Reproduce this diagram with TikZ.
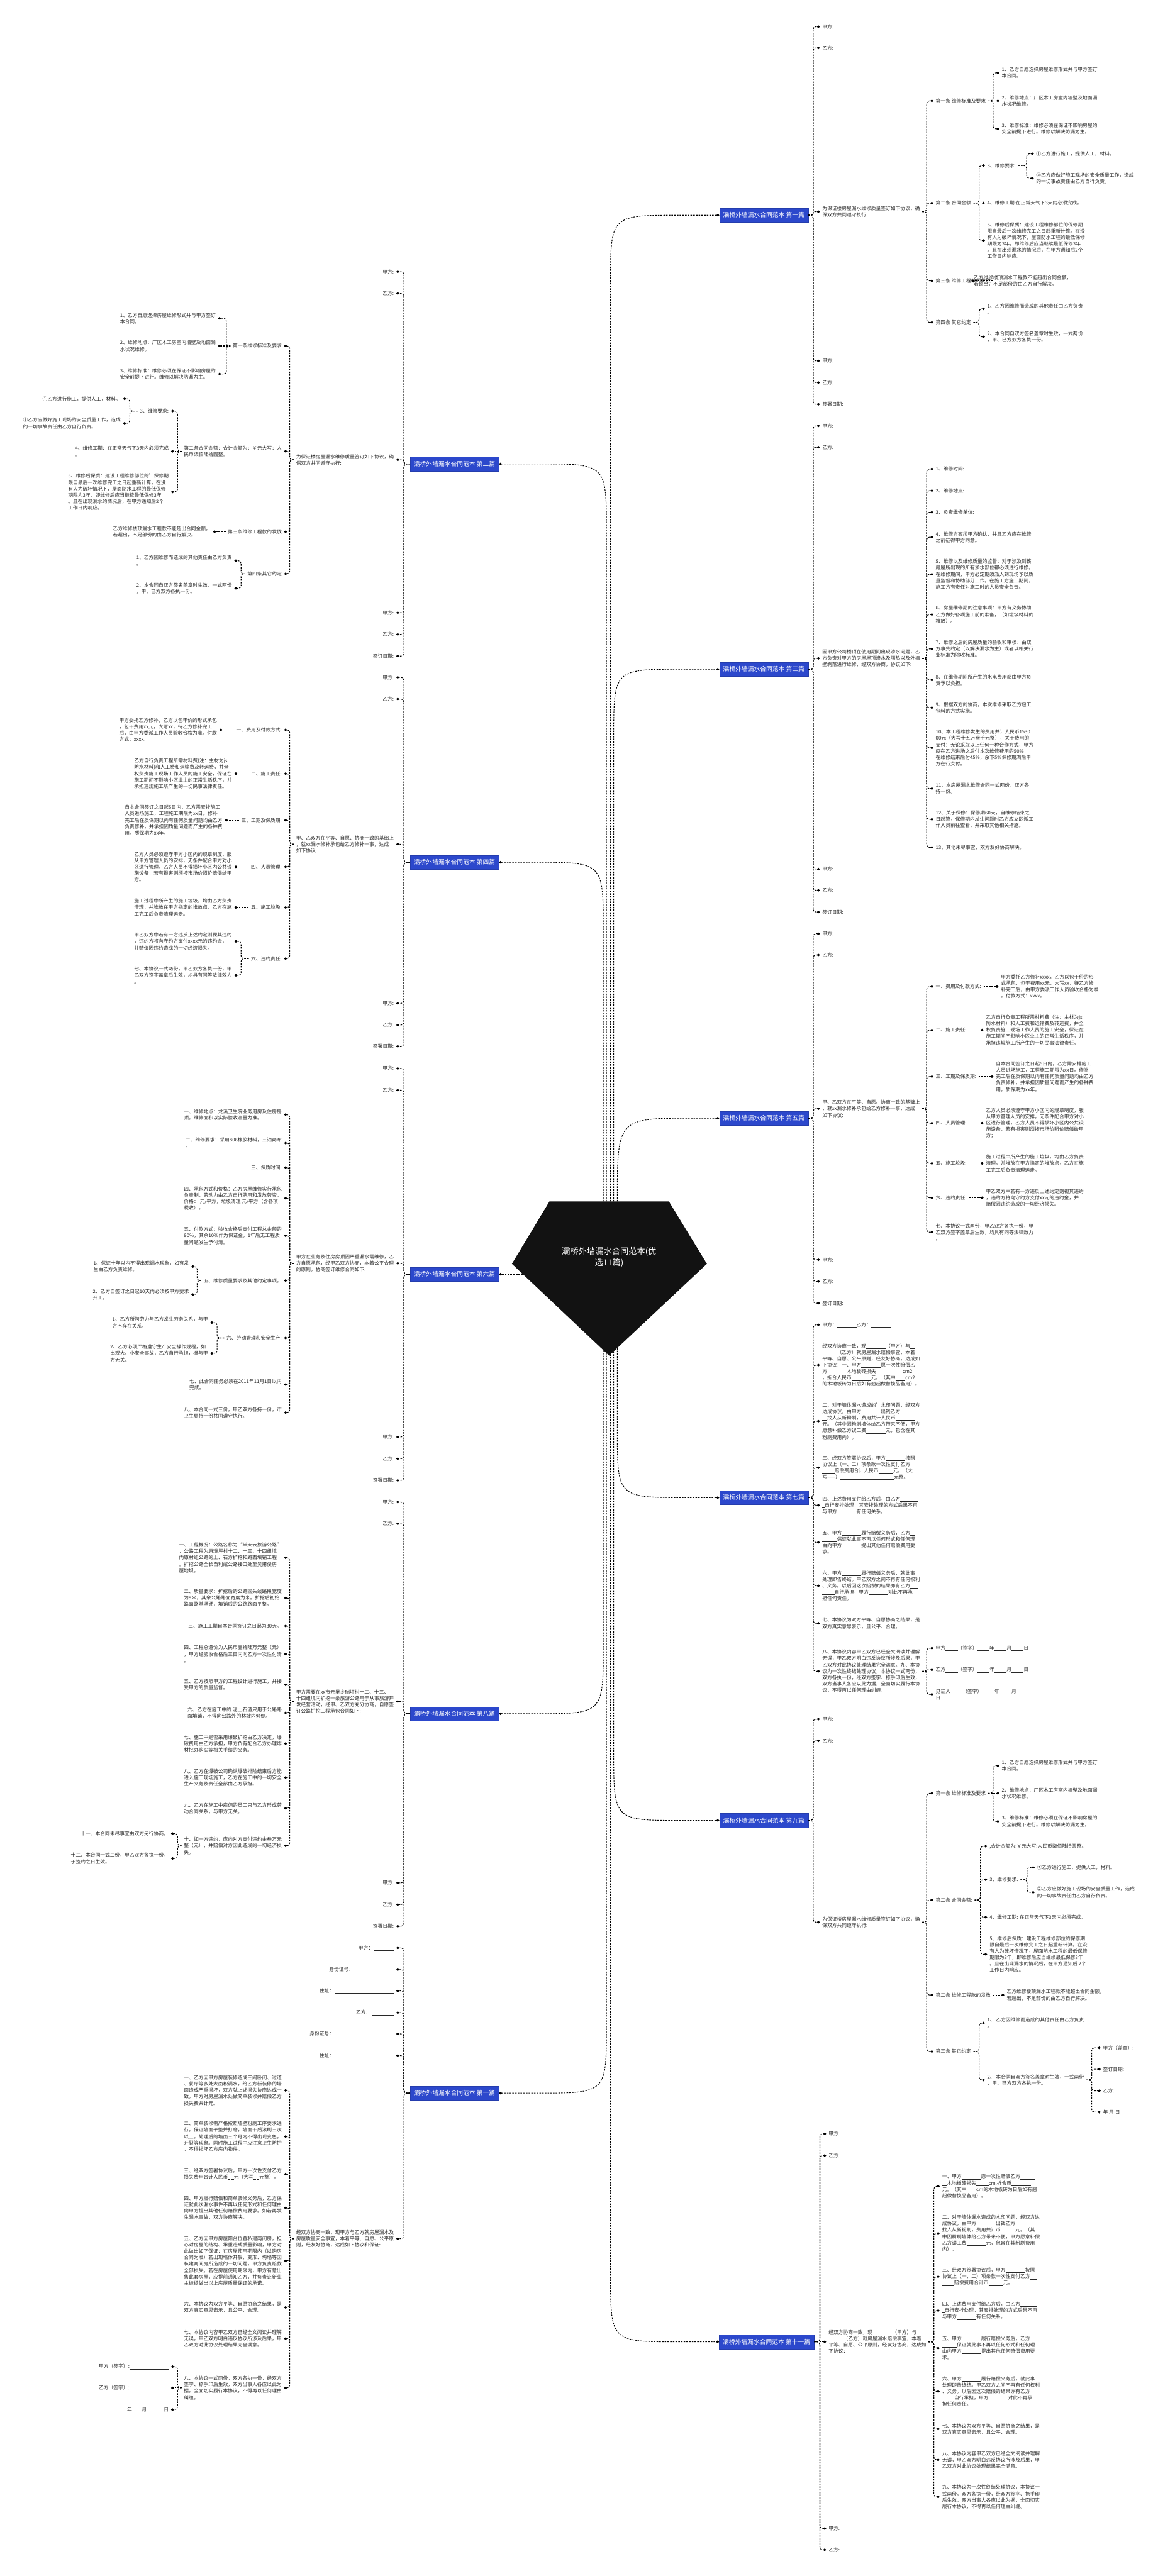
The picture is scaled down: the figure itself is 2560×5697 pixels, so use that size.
\documentclass[tikz,border=0pt]{standalone}
\usepackage{fontspec}
\setmainfont{Noto Sans CJK SC}
\usetikzlibrary{arrows.meta,calc}
\definecolor{bluebox}{RGB}{44,72,204}
\definecolor{txtc}{RGB}{40,40,40}
\newdimen\ulw \ulw=5.4pt
\newcommand\bl[1]{\rule[-1.6pt]{#1\ulw}{0.6pt}}
\newcommand\fsz{\fontsize{10.8pt}{14.1pt}\selectfont}
\newcommand\fbr{\fontsize{13.6pt}{16pt}\selectfont}
\newcommand\fcen{\fontsize{18.4pt}{25pt}\selectfont}
\tikzset{
 txt/.style={font=\fsz, text=txtc, align=left, inner xsep=5pt, inner ysep=1pt},
 rn/.style={txt, anchor=west},
 ln/.style={txt, anchor=east},
 br/.style={fill=bluebox, draw=bluebox!85!black, line width=0.6pt, text=white, font=\fbr, minimum width=196pt, minimum height=31pt, inner sep=2pt},
 conn/.style={draw=black, line width=1.5pt, dash pattern=on 3.5pt off 2.5pt, -{Diamond[length=7pt,width=6pt]}},
}
\newcommand\conR[3]{\draw[conn] let \p1=(#1.east), \p2=(#3.west), \n1={max(0.5pt,min(6pt,abs(\y2-(\y1))/2.2))}, \n2={max(#2pt,\x1+9pt)} in [rounded corners=\n1] (\p1) -- (\n2,\y1) -- (\n2,\y2) -- (\p2);}
\newcommand\conL[3]{\draw[conn] let \p1=(#1.west), \p2=(#3.east), \n1={max(0.5pt,min(6pt,abs(\y2-(\y1))/2.2))}, \n2={min(#2pt,\x1-9pt)} in [rounded corners=\n1] (\p1) -- (\n2,\y1) -- (\n2,\y2) -- (\p2);}
\newcommand\conRs[2]{\draw[conn] (#1.east) -- (#2.west);}
\newcommand\conLs[2]{\draw[conn] (#1.west) -- (#2.east);}
\begin{document}
\begin{tikzpicture}[x=1pt,y=-1pt]
\fill[white] (0,0) rectangle (2560,5697);
\useasboundingbox (0,0) rectangle (2560,5697);
% ===== center
\fill[black!93] (1215,2657) -- (1479,2657) -- (1563,2795) -- (1347,2998) -- (1132,2795) -- cycle;
\node[text=white, font=\fcen, align=center] (C) at (1347,2780) {灞桥外墙漏水合同范本(优\\选11篇)};
\coordinate (tB1) at (1350,2657);
\coordinate (tB3) at (1357,2657);
\coordinate (tB5) at (1365,2657);
\coordinate (tB2) at (1341,2657);
\coordinate (tB4) at (1334,2657);
\coordinate (tB6) at (1156,2818);
\coordinate (tB7) at (1365,2981);
\coordinate (tB9) at (1357,2989);
\coordinate (tB11) at (1350,2995);
\coordinate (tB10) at (1341,2992);
\coordinate (tB8) at (1334,2986);
% ===== branch boxes
\node[br] (B1) at (1689,476) {灞桥外墙漏水合同范本 第一篇};
\node[br] (B3) at (1689,1480) {灞桥外墙漏水合同范本 第三篇};
\node[br] (B5) at (1689,2473) {灞桥外墙漏水合同范本 第五篇};
\node[br] (B7) at (1689,3312) {灞桥外墙漏水合同范本 第七篇};
\node[br] (B9) at (1689,4026) {灞桥外墙漏水合同范本 第九篇};
\node[br, minimum width=209pt] (B11) at (1695,5179) {灞桥外墙漏水合同范本 第十一篇};
\node[br] (B2) at (1005,1026) {灞桥外墙漏水合同范本 第二篇};
\node[br] (B4) at (1005,1907) {灞桥外墙漏水合同范本 第四篇};
\node[br] (B6) at (1005,2818) {灞桥外墙漏水合同范本 第六篇};
\node[br] (B8) at (1005,3790) {灞桥外墙漏水合同范本 第八篇};
\node[br] (B10) at (1005,4629) {灞桥外墙漏水合同范本 第十篇};
% center connectors
\draw[conn] (tB1) -- (1350,626) .. controls (1350,476) .. (1500,476) -- (B1.west);
\draw[conn] (tB3) -- (1357,1630) .. controls (1357,1480) .. (1507,1480) -- (B3.west);
\draw[conn] (tB5) .. controls (1365,2473) .. (1530,2473) -- (B5.west);
\draw[conn] (tB2) -- (1341,1176) .. controls (1341,1026) .. (1191,1026) -- (B2.east);
\draw[conn] (tB4) -- (1334,2057) .. controls (1334,1907) .. (1184,1907) -- (B4.east);
\draw[conn] (tB6) -- (B6.east);
\draw[conn] (tB7) -- (1365,3162) .. controls (1365,3312) .. (1515,3312) -- (B7.west);
\draw[conn] (tB9) -- (1357,3876) .. controls (1357,4026) .. (1507,4026) -- (B9.west);
\draw[conn] (tB11) -- (1350,5029) .. controls (1350,5179) .. (1500,5179) -- (B11.west);
\draw[conn] (tB8) -- (1334,3640) .. controls (1334,3790) .. (1184,3790) -- (B8.east);
\draw[conn] (tB10) -- (1341,4479) .. controls (1341,4629) .. (1191,4629) -- (B10.east);
% ================= 第一篇
\node[rn] (p1a) at (1813,59) {甲方:};
\node[rn] (p1b) at (1813,106) {乙方:};
\node[rn] (p1c) at (1813,468) {为保证楼房屋漏水维修质量签订如下协议，确\\保双方共同遵守执行:};
\node[rn] (p1d) at (1813,798) {甲方:};
\node[rn] (p1e) at (1813,846) {乙方:};
\node[rn] (p1f) at (1813,894) {签署日期:};
\node[rn] (p1g) at (2064,223) {第一条 维修标准及要求};
\node[rn] (p1h) at (2064,449) {第二条 合同金额};
\node[rn] (p1i) at (2064,621) {第三条 维修工程款的发放};
\node[rn] (p1j) at (2064,713) {第四条 其它约定};
\node[rn] (p1k) at (2210,161) {1、乙方自愿选择房屋维修形式并与甲方签订\\本合同。};
\node[rn] (p1l) at (2210,223) {2、维修地点：厂区木工房室内墙壁及地面漏\\水状况维修。};
\node[rn] (p1m) at (2210,285) {3、维修标准：维修必须在保证不影响房屋的\\安全前提下进行。维修以解决防漏为主。};
\node[rn] (p1n) at (2178,366) {3、维修要求:};
\node[rn] (p1o) at (2178,449) {4、维修工期:在正常天气下3天内必须完成。};
\node[rn] (p1p) at (2178,532) {5、维修后保质：建设工程维修部位的保修期\\限自最后一次维修完工之日起重新计算。在没\\有人为破坏情况下，屋面防水工程的最低保修\\期限为3年，即维修后应当继续最低保修3年\\。且在出现漏水的情况后，在甲方通知后2个\\工作日内响应。};
\node[rn] (p1q) at (2286,340) {①乙方进行施工，提供人工，材料。};
\node[rn] (p1r) at (2286,394) {②乙方应做好施工现场的安全质量工作，造成\\的一切事故责任由乙方自行负责。};
\node[rn] (p1s) at (2148,621) {乙方维修楼顶漏水工程款不能超出合同金额，\\若超出，不足部份的由乙方自行解决。};
\node[rn] (p1t) at (2178,683) {1、乙方因维修而造成的其他责任由乙方负责\\。};
\node[rn] (p1u) at (2178,745) {2、本合同自双方签名盖章时生效，一式两份\\，甲、已方双方各执一份。};
\foreach \nm in {p1a,p1b,p1c,p1d,p1e,p1f} {\conR{B1}{1798}{\nm}}
\foreach \nm in {p1g,p1h,p1i,p1j} {\conR{p1c}{2049}{\nm}}
\conR{p1g}{2196}{p1k} \conRs{p1g}{p1l} \conR{p1g}{2196}{p1m}
\conR{p1h}{2165}{p1n} \conRs{p1h}{p1o} \conR{p1h}{2165}{p1p}
\conR{p1n}{2270}{p1q} \conR{p1n}{2270}{p1r}
\conRs{p1i}{p1s}
\conR{p1j}{2165}{p1t} \conR{p1j}{2165}{p1u}
% ================= 第三篇
\node[rn] (p3a) at (1813,942) {甲方:};
\node[rn] (p3b) at (1813,989) {乙方:};
\node[rn] (p3c) at (1813,1456) {因甲方公司楼顶在使用期间出现渗水问题，乙\\方负责对甲方的房屋屋顶渗水及隔热以及外墙\\壁剥落进行维修，经双方协商，协议如下:};
\node[rn] (p3d) at (1813,1922) {甲方:};
\node[rn] (p3e) at (1813,1969) {乙方:};
\node[rn] (p3f) at (1813,2017) {签订日期:};
\node[rn] (p3g) at (2064,1037) {1、维修时间:};
\node[rn] (p3h) at (2064,1085) {2、维修地点:};
\node[rn] (p3i) at (2064,1133) {3、负责维修单位:};
\node[rn] (p3j) at (2064,1188) {4、维修方案须甲方确认，并且乙方应在维修\\之前征得甲方同意。};
\node[rn] (p3k) at (2064,1270) {5、维修以及维修质量的监督：对于涉及到该\\房屋所出现的所有渗水部位都必须进行维修。\\在维修期间，甲方必定期须派人到现场予以质\\量监督和协助部分工作。在施工方施工期间，\\施工方有责任对施工时的人员安全负责。};
\node[rn] (p3l) at (2064,1359) {6、房屋维修期的注意事项：甲方有义务协助\\乙方做好各项施工前的准备，（如垃圾材料的\\堆放）。};
\node[rn] (p3m) at (2064,1435) {7、维修之后的房屋质量的验收和审核：由双\\方事先约定（以解决漏水为主）或者以相关行\\业标准为验收标准。};
\node[rn] (p3n) at (2064,1504) {8、在维修期间所产生的水电费用都由甲方负\\责予以负担。};
\node[rn] (p3o) at (2064,1565) {9、根据双方的协商，本次维修采取乙方包工\\包料的方式实施。};
\node[rn] (p3p) at (2064,1654) {10、本工程维修发生的费用共计人民币1530\\00元（大写十五万叁千元整），关于费用的\\支付：无论采取以上任何一种合作方式，甲方\\应在乙方进场之后付本次维修费用的50\%，\\在维修结束后付45\%，余下5\%保修期满后甲\\方在行支付。};
\node[rn] (p3q) at (2064,1744) {11、本房屋漏水维修合同一式两份，双方各\\持一份。};
\node[rn] (p3r) at (2064,1812) {12、关于保修：保修期60天，自维修结束之\\日起算，保修期内发生问题时乙方应立即派工\\作人员前往查看，并采取其他相关措施。};
\node[rn] (p3s) at (2064,1874) {13、其他未尽事宜，双方友好协商解决。};
\foreach \nm in {p3a,p3b,p3c,p3d,p3e,p3f} {\conR{B3}{1798}{\nm}}
\foreach \nm in {p3g,p3h,p3i,p3j,p3k,p3l,p3m,p3n,p3o,p3p,p3q,p3r,p3s} {\conR{p3c}{2049}{\nm}}
% ================= 第五篇
\node[rn] (p5a) at (1813,2065) {甲方:};
\node[rn] (p5b) at (1813,2112) {乙方:};
\node[rn] (p5c) at (1813,2452) {甲、乙双方在平等、自愿、协商一致的基础上\\，就xx漏水修补承包给乙方修补一事，达成\\如下协议:};
\node[rn] (p5d) at (1813,2786) {甲方:};
\node[rn] (p5e) at (1813,2834) {乙方:};
\node[rn] (p5f) at (1813,2882) {签订日期:};
\node[rn] (p5g) at (2064,2182) {一、费用及付款方式:};
\node[rn] (p5h) at (2064,2278) {二、施工责任:};
\node[rn] (p5i) at (2064,2381) {三、工期及保质期:};
\node[rn] (p5j) at (2064,2484) {四、人员管理:};
\node[rn] (p5k) at (2064,2573) {五、施工垃圾:};
\node[rn] (p5l) at (2064,2649) {六、违约责任:};
\node[rn] (p5m) at (2064,2725) {七、本协议一式两份，甲乙双方各执一份，甲\\乙双方签字盖章后生效，均具有同等法律效力\\。};
\node[rn] (p5n) at (2208,2182) {甲方委托乙方修补xxxx，乙方以包干价的形\\式承包，包干费用xx元，大写xx，待乙方修\\补完工后，由甲方委派工作人员验收合格为准\\。付款方式：xxxx。};
\node[rn] (p5o) at (2175,2278) {乙方自行负责工程所需材料费（注：主材为js\\防水材料）和人工费和运输费及转运费，并全\\权负责施工现场工作人员的施工安全，保证在\\施工期间不影响小区业主的正常生活秩序，并\\承担违规施工所产生的一切民事法律责任。};
\node[rn] (p5p) at (2197,2381) {自本合同签订之日起5日内，乙方需安排施工\\人员进场施工，工程施工期限为xx日。修补\\完工后在质保期以内有任何质量问题均由乙方\\负责修补，并承担因质量问题而产生的各种费\\用，质保期为xx年。};
\node[rn] (p5q) at (2175,2484) {乙方人员必须遵守甲方小区内的规章制度，服\\从甲方管理人员的安排，无条件配合甲方对小\\区进行管理，乙方人员不得损坏小区内公共设\\施设备，若有损害则须按市场价照价赔偿给甲\\方；};
\node[rn] (p5r) at (2175,2573) {施工过程中所产生的施工垃圾，均由乙方负责\\清理，并堆放在甲方指定的堆放点，乙方在施\\工完工后负责清理运走。};
\node[rn] (p5s) at (2175,2649) {甲乙双方中若有一方违反上述约定则视其违约\\，违约方将向守约方支付xx元的违约金，并\\赔偿因违约造成的一切经济损失。};
\foreach \nm in {p5a,p5b,p5c,p5d,p5e,p5f} {\conR{B5}{1798}{\nm}}
\foreach \nm in {p5g,p5h,p5i,p5j,p5k,p5l,p5m} {\conR{p5c}{2049}{\nm}}
\conRs{p5g}{p5n} \conRs{p5h}{p5o} \conRs{p5i}{p5p} \conRs{p5j}{p5q} \conRs{p5k}{p5r} \conRs{p5l}{p5s}
% ================= 第七篇
\node[rn] (p7a) at (1813,2930) {甲方：\bl{8}乙方：\bl{8}};
\node[rn] (p7b) at (1813,3019) {经双方协商一致，现\bl{8}（甲方）与\bl{2}\\\bl{6}（乙方）就房屋漏水赔偿事宜，本着\\平等、自愿、公平原则，经友好协商，达成如\\下协议：一、甲方\bl{8}愿一次性赔偿乙\\方\bl{8}木地板砖损失\bl{2} \bl{6} \bl{2}cm2\\，折合人民币\bl{8}元。（其中\bl{4}cm2\\的木地板砖为日后如有翘起做替换品备用）。};
\node[rn] (p7c) at (1813,3143) {二、对于墙体漏水造成的'水印问题，经双方\\达成协议，由甲方\bl{8}出钱乙方\bl{6}\\\bl{2}找人从新粉刷，费用共计人民币\bl{8}\\元。（其中因粉刷墙体给乙方带来不便，甲方\\愿意补偿乙方误工费\bl{8}元，包含在其\\粉刷费用内）。};
\node[rn] (p7d) at (1813,3246) {三、经双方签署协议后，甲方\bl{8}按照\\协议上（一、二）项条款一次性支付乙方\bl{3}\\\bl{5}赔偿费用合计人民币\bl{6}元。（大\\写——）\bl{22}元整。};
\node[rn] (p7e) at (1813,3329) {四、上述费用支付给乙方后，由乙方\bl{7}\\\bl{1}自行安排处理，其安排处理的方式后果不再\\与甲方\bl{8}有任何关系。};
\node[rn] (p7f) at (1813,3411) {五、甲方\bl{8}履行赔偿义务后，乙方\bl{2}\\\bl{6}保证就此事不再以任何形式和任何理\\由向甲方\bl{8}提出其他任何赔偿费用要\\求。};
\node[rn] (p7g) at (1813,3507) {六、甲方\bl{8}履行赔偿义务后，就此事\\处理即告终结。甲乙双方之间不再有任何权利\\、义务。以后因这次赔偿的结果亦有乙方\bl{3}\\\bl{5}自行承担，甲方\bl{8}对此不再承\\担任何责任。};
\node[rn] (p7h) at (1813,3590) {七、本协议为双方平等、自愿协商之结果，是\\双方真实意思表示，且公平、合理。};
\node[rn] (p7i) at (1813,3696) {八、本协议内容甲乙双方已经全文阅读并理解\\无误，甲乙双方明白违反协议所涉及后果，甲\\乙双方对此协议处理结果完全满意。九、本协\\议为一次性终结处理协议，本协议一式两份，\\双方各执一份，经双方签字、捺手印后生效，\\双方当事人各应以此为据，全面切实履行本协\\议，不得再以任何理由纠缠。};
\node[rn] (p7j) at (2064,3645) {甲方\bl{5}（签字）\bl{5}年\bl{5}月\bl{5}日};
\node[rn] (p7k) at (2064,3693) {乙方\bl{5}（签字）\bl{5}年\bl{5}月\bl{5}日};
\node[rn] (p7l) at (2064,3747) {见证人\bl{5}（签字）\bl{5}年\bl{5}月\bl{5}\\日};
\foreach \nm in {p7a,p7b,p7c,p7d,p7e,p7f,p7g,p7h,p7i} {\conR{B7}{1798}{\nm}}
\foreach \nm in {p7j,p7k,p7l} {\conR{p7i}{2049}{\nm}}
% ================= 第九篇
\node[rn] (p9a) at (1813,3802) {甲方:};
\node[rn] (p9b) at (1813,3850) {乙方:};
\node[rn] (p9c) at (1813,4251) {为保证楼房屋漏水维修质量签订如下协议，确\\保双方共同遵守执行:};
\node[rn] (p9d) at (2064,3966) {第一条 维修标准及要求};
\node[rn] (p9e) at (2064,4202) {第二条 合同金额:};
\node[rn] (p9f) at (2064,4412) {第二条 维修工程款的发放};
\node[rn] (p9g) at (2064,4537) {第三条 其它约定};
\node[rn] (p9h) at (2210,3905) {1、乙方自愿选择房屋维修形式并与甲方签订\\本合同。};
\node[rn] (p9i) at (2210,3966) {2、维修地点：厂区木工房室内墙壁及地面漏\\水状况维修。};
\node[rn] (p9j) at (2210,4028) {3、维修标准：维修必须在保证不影响房屋的\\安全前提下进行。维修以解决防漏为主。};
\node[rn] (p9k) at (2183,4083) {,合计金额为:￥元大写:人民币柒佰陆拾圆整。};
\node[rn] (p9l) at (2183,4157) {3、维修要求:};
\node[rn] (p9m) at (2183,4240) {4、维修工期: 在正常天气下3天内必须完成。};
\node[rn] (p9n) at (2183,4322) {5、维修后保质：建设工程维修部位的保修期\\限自最后一次维修完工之日起重新计算。在没\\有人为破坏情况下，屋面防水工程的最低保修\\期限为3年，即维修后应当继续最低保修3年\\。且在出现漏水的情况后，在甲方通知后 2个\\工作日内响应。};
\node[rn] (p9o) at (2288,4130) {①乙方进行施工，提供人工，材料。};
\node[rn] (p9p) at (2288,4185) {②乙方应做好施工现场的安全质量工作，造成\\的一切事故责任由乙方自行负责。};
\node[rn] (p9q) at (2221,4412) {乙方维修楼顶漏水工程款不能超出合同金额，\\若超出，不足部份的由乙方自行解决。};
\node[rn] (p9r) at (2178,4474) {1、 乙方因维修而造成的其他责任由乙方负责\\。};
\node[rn] (p9s) at (2178,4600) {2、 本合同自双方签名盖章时生效，一式两份\\，甲、已方双方各执一份。};
\node[rn] (p9t) at (2434,4529) {甲方（盖章）:};
\node[rn] (p9u) at (2434,4576) {签订日期:};
\node[rn] (p9v) at (2434,4624) {乙方:};
\node[rn] (p9w) at (2434,4671) {年 月 日};
\foreach \nm in {p9a,p9b,p9c} {\conR{B9}{1798}{\nm}}
\foreach \nm in {p9d,p9e,p9f,p9g} {\conR{p9c}{2049}{\nm}}
\conR{p9d}{2196}{p9h} \conRs{p9d}{p9i} \conR{p9d}{2196}{p9j}
\foreach \nm in {p9k,p9l,p9m,p9n} {\conR{p9e}{2168}{\nm}}
\conR{p9l}{2271}{p9o} \conR{p9l}{2271}{p9p}
\conRs{p9f}{p9q}
\conR{p9g}{2165}{p9r} \conR{p9g}{2165}{p9s}
\foreach \nm in {p9t,p9u,p9v,p9w} {\conR{p9s}{2414}{\nm}}
% ================= 第十一篇
\node[rn] (p11a) at (1827,4719) {甲方:};
\node[rn] (p11b) at (1827,4767) {乙方:};
\node[rn] (p11c) at (1827,5179) {经双方协商一致，现\bl{8}（甲方）与\bl{2}\\\bl{6}（乙方）就房屋漏水赔偿事宜，本着\\平等、自愿、公平原则，经友好协商，达成如\\下协议：};
\node[rn] (p11d) at (1827,5592) {甲方:};
\node[rn] (p11e) at (1827,5639) {乙方:};
\node[rn] (p11f) at (2078,4835) {一、甲方\bl{8}愿一次性赔偿乙方\bl{6}\\\bl{2}木地板砖损失\bl{5}cm,折合币\bl{8}\\元。（其中\bl{4}cm的木地板砖为日后如有翘\\起做替换品备用）。};
\node[rn] (p11g) at (2078,4939) {二、对于墙体漏水造成的水印问题，经双方达\\成协议，由甲方\bl{8}出钱乙方\bl{8}\\找人从新粉刷，费用共计币\bl{6}元。（其\\中因粉刷墙体给乙方带来不便，甲方愿意补偿\\乙方误工费\bl{8}元，包含在其粉刷费用\\内）。};
\node[rn] (p11h) at (2078,5035) {三、经双方签署协议后，甲方\bl{8}按照\\协议上（一、二）项条款一次性支付乙方\bl{3}\\\bl{5}赔偿费用合计币\bl{6}元。};
\node[rn] (p11i) at (2078,5110) {四、上述费用支付给乙方后，由乙方\bl{7}\\\bl{1}自行安排处理，其安排处理的方式后果不再\\与甲方\bl{8}有任何关系。};
\node[rn] (p11j) at (2078,5193) {五、甲方\bl{8}履行赔偿义务后，乙方\bl{2}\\\bl{6}保证就此事不再以任何形式和任何理\\由向甲方\bl{8}提出其他任何赔偿费用要\\求。};
\node[rn] (p11k) at (2078,5289) {六、甲方\bl{8}履行赔偿义务后，就此事\\处理即告终结。甲乙双方之间不再有任何权利\\、义务。以后因这次赔偿的结果亦有乙方\bl{3}\\\bl{5}自行承担，甲方\bl{8}对此不再承\\担任何责任。};
\node[rn] (p11l) at (2078,5372) {七、本协议为双方平等、自愿协商之结果，是\\双方真实意思表示，且公平、合理。};
\node[rn] (p11m) at (2078,5440) {八、本协议内容甲乙双方已经全文阅读并理解\\无误，甲乙双方明白违反协议所涉及后果，甲\\乙双方对此协议处理结果完全满意。};
\node[rn] (p11n) at (2078,5522) {九、本协议为一次性终结处理协议，本协议一\\式两份，双方各执一份，经双方签字、捺手印\\后生效，双方当事人各应以此为据，全面切实\\履行本协议，不得再以任何理由纠缠。};
\conR{B11}{1813}{p11a} \conR{B11}{1813}{p11b} \conRs{B11}{p11c} \conR{B11}{1813}{p11d} \conR{B11}{1813}{p11e}
\foreach \nm in {p11f,p11g,p11h,p11i,p11j,p11k,p11l,p11m,p11n} {\conR{p11c}{2065}{\nm}}
% ================= 第二篇 (left)
\node[ln] (q2a) at (876,601) {甲方:};
\node[ln] (q2b) at (876,649) {乙方:};
\node[ln] (q2c) at (876,1017) {为保证楼房屋漏水维修质量签订如下协议，确\\保双方共同遵守执行:};
\node[ln] (q2d) at (876,1355) {甲方:};
\node[ln] (q2e) at (876,1403) {乙方:};
\node[ln] (q2f) at (876,1451) {签订日期:};
\node[ln] (q2g) at (628,765) {第一条维修标准及要求};
\node[ln] (q2h) at (628,998) {第二条合同金额：合计金额为：￥元大写：人\\民币柒佰陆拾圆整。};
\node[ln] (q2i) at (628,1176) {第三条维修工程款的发放};
\node[ln] (q2j) at (628,1269) {第四条其它约定};
\node[ln] (q2k) at (482,704) {1、乙方自愿选择房屋维修形式并与甲方签订\\本合同。};
\node[ln] (q2l) at (482,765) {2、维修地点：厂区木工房室内墙壁及地面漏\\水状况维修。};
\node[ln] (q2m) at (482,827) {3、维修标准：维修必须在保证不影响房屋的\\安全前提下进行。维修以解决防漏为主。};
\node[ln] (q2n) at (378,909) {3、维修要求:};
\node[ln] (q2o) at (378,998) {4、维修工期：在正常天气下3天内必须完成\\。};
\node[ln] (q2p) at (378,1088) {5、维修后保质：建设工程维修部位的'保修期\\限自最后一次维修完工之日起重新计算，在没\\有人为破坏情况下，屋面防水工程的最低保修\\期限为3年，即维修后应当继续最低保修3年\\。且在出现漏水的情况后，在甲方通知后2个\\工作日内响应。};
\node[ln] (q2q) at (272,882) {①乙方进行施工，提供人工，材料。};
\node[ln] (q2r) at (272,936) {②乙方应做好施工现场的安全质量工作，造成\\的一切事故责任由乙方自行负责。};
\node[ln] (q2s) at (471,1176) {乙方维修楼顶漏水工程款不能超出合同金额，\\若超出，不足部份的由乙方自行解决。};
\node[ln] (q2t) at (518,1240) {1、乙方因维修而造成的其他责任由乙方负责\\。};
\node[ln] (q2u) at (518,1301) {2、本合同自双方签名盖章时生效，一式两份\\，甲、已方双方各执一份。};
\foreach \nm in {q2a,q2b,q2c,q2d,q2e,q2f} {\conL{B2}{893}{\nm}}
\foreach \nm in {q2g,q2h,q2i,q2j} {\conL{q2c}{645}{\nm}}
\conL{q2g}{501}{q2k} \conLs{q2g}{q2l} \conL{q2g}{501}{q2m}
\conL{q2h}{394}{q2n} \conLs{q2h}{q2o} \conL{q2h}{394}{q2p}
\conL{q2n}{287}{q2q} \conL{q2n}{287}{q2r}
\conLs{q2i}{q2s}
\conL{q2j}{533}{q2t} \conL{q2j}{533}{q2u}
% ================= 第四篇 (left)
\node[ln] (q4a) at (876,1498) {甲方:};
\node[ln] (q4b) at (876,1546) {乙方:};
\node[ln] (q4c) at (876,1867) {甲、乙双方在平等、自愿、协商一致的基础上\\，就xx漏水修补承包给乙方修补一事，达成\\如下协议:};
\node[ln] (q4d) at (876,2219) {甲方:};
\node[ln] (q4e) at (876,2267) {乙方:};
\node[ln] (q4f) at (876,2314) {签署日期:};
\node[ln] (q4g) at (628,1614) {一、费用及付款方式:};
\node[ln] (q4h) at (628,1711) {二、施工责任:};
\node[ln] (q4i) at (628,1814) {三、工期及保质期:};
\node[ln] (q4j) at (628,1917) {四、人员管理:};
\node[ln] (q4k) at (628,2007) {五、施工垃圾:};
\node[ln] (q4l) at (628,2120) {六、违约责任:};
\node[ln] (q4m) at (485,1614) {甲方委托乙方修补，乙方以包干价的形式承包\\，包干费用xx元，大写xx，待乙方修补完工\\后，由甲方委派工作人员验收合格为准。付款\\方式：xxxx。};
\node[ln] (q4n) at (518,1711) {乙方自行负责工程所需材料费(注：主材为js\\防水材料)和人工费和运输费及转运费，并全\\权负责施工现场工作人员的施工安全，保证在\\施工期间不影响小区业主的正常生活秩序，并\\承担违规施工所产生的一切民事法律责任。};
\node[ln] (q4o) at (497,1814) {自本合同签订之日起5日内，乙方需安排施工\\人员进场施工，工程施工期限为xx日。修补\\完工后在质保期以内有任何质量问题均由乙方\\负责修补，并承担因质量问题而产生的各种费\\用，质保期为xx年。};
\node[ln] (q4p) at (518,1917) {乙方人员必须遵守甲方小区内的规章制度，服\\从甲方管理人员的安排，无条件配合甲方对小\\区进行管理，乙方人员不得损坏小区内公共设\\施设备，若有损害则须按市场价照价赔偿给甲\\方。};
\node[ln] (q4q) at (518,2007) {施工过程中所产生的施工垃圾，均由乙方负责\\清理，并堆放在甲方指定的堆放点，乙方在施\\工完工后负责清理运走。};
\node[ln] (q4r) at (518,2082) {甲乙双方中若有一方违反上述约定则视其违约\\，违约方将向守约方支付xxxx元的违约金，\\并赔偿因违约造成的一切经济损失。};
\node[ln] (q4s) at (518,2157) {七、本协议一式两份，甲乙双方各执一份，甲\\乙双方签字盖章后生效，均具有同等法律效力\\。};
\foreach \nm in {q4a,q4b,q4c,q4d,q4e,q4f} {\conL{B4}{893}{\nm}}
\foreach \nm in {q4g,q4h,q4i,q4j,q4k,q4l} {\conL{q4c}{645}{\nm}}
\conLs{q4g}{q4m} \conLs{q4h}{q4n} \conLs{q4i}{q4o} \conLs{q4j}{q4p} \conLs{q4k}{q4q}
\conL{q4l}{533}{q4r} \conL{q4l}{533}{q4s}
% ================= 第六篇 (left)
\node[ln] (q6a) at (876,2363) {甲方:};
\node[ln] (q6b) at (876,2411) {乙方:};
\node[ln] (q6c) at (876,2794) {甲方在业务及住房房顶因严重漏水需维修，乙\\方自愿承包，经甲乙双方协商，本着公平合理\\的原则，协商签订维修合同如下:};
\node[ln] (q6d) at (876,3178) {甲方:};
\node[ln] (q6e) at (876,3226) {乙方:};
\node[ln] (q6f) at (876,3274) {签署日期:};
\node[ln] (q6g) at (628,2465) {一、维修地点：龙溪卫生院业务用房及住房房\\顶。维修面积以实际验收测量为准。};
\node[ln] (q6h) at (628,2528) {二、维修要求：采用806橡胶材料，三油两布\\。};
\node[ln] (q6i) at (628,2582) {三、保质时间:};
\node[ln] (q6j) at (628,2650) {四、承包方式和价格：乙方房屋维修实行承包\\负责制，劳动力由乙方自行聘用和发放劳资，\\价格： 元/平方，垃圾清理 元/平方（含各项\\税收）。};
\node[ln] (q6k) at (628,2733) {五、付款方式：验收合格后支付工程总金额的\\90\%，其余10\%作为保证金，1年后无工程质\\量问题发生予付清。};
\node[ln] (q6l) at (628,2832) {五、维修质量要求及其他约定事项。};
\node[ln] (q6m) at (628,2959) {六、劳动管理和安全生产:};
\node[ln] (q6n) at (628,3062) {七、此合同任务必须在2011年11月1日以内\\完成。};
\node[ln] (q6o) at (628,3124) {八、本合同一式三份，甲乙双方各持一份，市\\卫生局持一份共同遵守执行。};
\node[ln] (q6p) at (423,2801) {1、保证十年以内不得出现漏水现象，如有发\\生由乙方负责维修。};
\node[ln] (q6q) at (423,2863) {2、乙方自签订之日起10天内必须按甲方要求\\开工。};
\node[ln] (q6r) at (465,2925) {1、乙方所聘劳力与乙方发生劳务关系，与甲\\方不存在关系。};
\node[ln] (q6s) at (465,2993) {2、乙方必须严格遵守生产安全操作规程，如\\出现大、小安全事故，乙方自行承担，概与甲\\方无关。};
\foreach \nm in {q6a,q6b,q6c,q6d,q6e,q6f} {\conL{B6}{893}{\nm}}
\foreach \nm in {q6g,q6h,q6i,q6j,q6k,q6l,q6m,q6n,q6o} {\conL{q6c}{645}{\nm}}
\conL{q6l}{438}{q6p} \conL{q6l}{438}{q6q}
\conL{q6m}{480}{q6r} \conL{q6m}{480}{q6s}
% ================= 第八篇 (left)
\node[ln] (q8a) at (876,3322) {甲方:};
\node[ln] (q8b) at (876,3370) {乙方:};
\node[ln] (q8c) at (876,3763) {甲方需要在xx市元堡乡瑞坪村十二、十三、\\十四组境内扩挖一条旅游公路用于从事旅游开\\发经营活动，经甲、乙双方充分协商，自愿签\\订公路扩挖工程承包合同如下:};
\node[ln] (q8d) at (876,4164) {甲方:};
\node[ln] (q8e) at (876,4212) {乙方:};
\node[ln] (q8f) at (876,4260) {签署日期:};
\node[ln] (q8g) at (628,3445) {一、工程概况：公路名称为“半天云旅游公路”\\，公路工程为原瑞坪村十二、十三、十四组境\\内原村组公路的土、石方扩挖和路面填铺工程\\。扩挖公路全长自利咸公路接口处至吴甫俊房\\屋地坝。};
\node[ln] (q8h) at (628,3534) {二、质量要求：扩挖后的公路回头线路段宽度\\为9米，其余公路路面宽度为米。扩挖后初始\\路面路基坚硬，填铺后的公路路面平整。};
\node[ln] (q8i) at (628,3596) {三、施工工期自本合同签订之日起为30天。};
\node[ln] (q8j) at (628,3658) {四、工程总造价为人民币壹拾陆万元整（元）\\，甲方经验收合格后三日内向乙方一次性付清\\。};
\node[ln] (q8k) at (628,3726) {五、乙方按照甲方的工程设计进行施工，并接\\受甲方的质量监督。};
\node[ln] (q8l) at (628,3788) {六、乙方在施工中的.泥土石渣只用于公路路\\面填铺，不得向公路外的林坡内倾倒。};
\node[ln] (q8m) at (628,3856) {七、施工中是否采用爆破扩挖由乙方决定，爆\\破费用由乙方承担，甲方负有配合乙方办理炸\\材批办购买等相关手续的义务。};
\node[ln] (q8n) at (628,3931) {八、乙方在爆破公司确认爆破排险结束后方能\\进入施工现场施工，乙方在施工中的一切安全\\生产义务及责任全部由乙方承担。};
\node[ln] (q8o) at (628,3999) {九、乙方在施工中雇佣的员工只与乙方形成劳\\动合同关系，与甲方无关。};
\node[ln] (q8p) at (628,4082) {十、如一方违约，应向对方支付违约金叁万元\\整（元），并赔偿对方因此造成的一切经济损\\失。};
\node[ln] (q8q) at (378,4055) {十一、本合同未尽事宜由双方另行协商。};
\node[ln] (q8r) at (378,4110) {十二、本合同一式二份，甲乙双方各执一份，\\于签约之日生效。};
\foreach \nm in {q8a,q8b,q8c,q8d,q8e,q8f} {\conL{B8}{893}{\nm}}
\foreach \nm in {q8g,q8h,q8i,q8j,q8k,q8l,q8m,q8n,q8o,q8p} {\conL{q8c}{645}{\nm}}
\conL{q8p}{395}{q8q} \conL{q8p}{395}{q8r}
% ================= 第十篇 (left)
\node[ln] (q10a) at (876,4308) {甲方： \bl{8}};
\node[ln] (q10b) at (876,4356) {身份证号： \bl{16}};
\node[ln] (q10c) at (876,4403) {住址： \bl{24}};
\node[ln] (q10d) at (876,4451) {乙方： \bl{9}};
\node[ln] (q10e) at (876,4498) {身份证号： \bl{24}};
\node[ln] (q10f) at (876,4546) {住址： \bl{24}};
\node[ln] (q10g) at (876,4951) {经双方协商一致，现甲方与乙方就房屋漏水及\\房屋质量安全事宜，本着平等、自愿、公平原\\则，经友好协商，达成如下协议和保证:};
\node[ln] (q10h) at (628,4623) {一、乙方因甲方房屋装修造成三间卧间、过道\\、餐厅等多处大面积漏水，给乙方新装修的墙\\面造成严重损坏，双方就上述损失协商达成一\\致，甲方对房屋漏水处做简单装修并赔偿乙方\\损失费共计元。};
\node[ln] (q10i) at (628,4725) {二、简单装修需严格按照墙壁粉刷工序要求进\\行，保证墙面平整并打磨，墙面干后滚刷三次\\以上。处理后的墙面三个月内不得出现变色，\\开裂等现象。同时施工过程中应注意卫生防护\\，不得损坏乙方房内物件。};
\node[ln] (q10j) at (628,4808) {三、经双方签署协议后，甲方一次性支付乙方\\损失费用合计人民币\bl{1} \bl{1}元（大写\bl{1} \bl{1}元整）。};
\node[ln] (q10k) at (628,4883) {四、甲方履行赔偿和简单装修义务后，乙方保\\证就此次漏水事件不再以任何形式和任何理由\\向甲方提出其他任何赔偿费用要求。如若再发\\生漏水事故，双方协商解决。};
\node[ln] (q10l) at (628,5000) {五、乙方因甲方房屋阳台位置私建两间房，担\\心对房屋的结构、承重造成质量影响，甲方对\\此做出如下保证：在房屋使用期限内（以购房\\合同为准）若出现墙体开裂，变形、坍塌等因\\私建两间房所造成的一切问题，甲方负责赔款\\全部损失。若在房屋使用期限内，甲方有意出\\售此套房屋，应提前通知乙方，并负责让新业\\主继续做出以上房屋质量保证的承诺。};
\node[ln] (q10m) at (628,5103) {六、本协议为双方平等、自愿协商之结果，是\\双方真实意思表示，且公平、合理。};
\node[ln] (q10n) at (628,5172) {七、本协议内容甲乙双方已经全文阅读并理解\\无误，甲乙双方明白违反协议所涉及后果，甲\\乙双方对此协议处理结果完全满意。};
\node[ln] (q10o) at (628,5281) {八、本协议一式两份，双方各执一份，经双方\\签字、捺手印后生效，双方当事人各应以此为\\据，全面切实履行本协议，不得再以任何理由\\纠缠。};
\node[ln] (q10p) at (378,5234) {甲方（签字）:\bl{16}};
\node[ln] (q10q) at (378,5281) {乙方（签字）:\bl{16}};
\node[ln] (q10r) at (378,5329) {\bl{8}年\bl{4}月\bl{7}日};
\foreach \nm in {q10a,q10b,q10c,q10d,q10e,q10f,q10g} {\conL{B10}{893}{\nm}}
\foreach \nm in {q10h,q10i,q10j,q10k,q10l,q10m,q10n,q10o} {\conL{q10g}{645}{\nm}}
\conL{q10o}{395}{q10p} \conLs{q10o}{q10q} \conL{q10o}{395}{q10r}
\end{tikzpicture}
\end{document}
